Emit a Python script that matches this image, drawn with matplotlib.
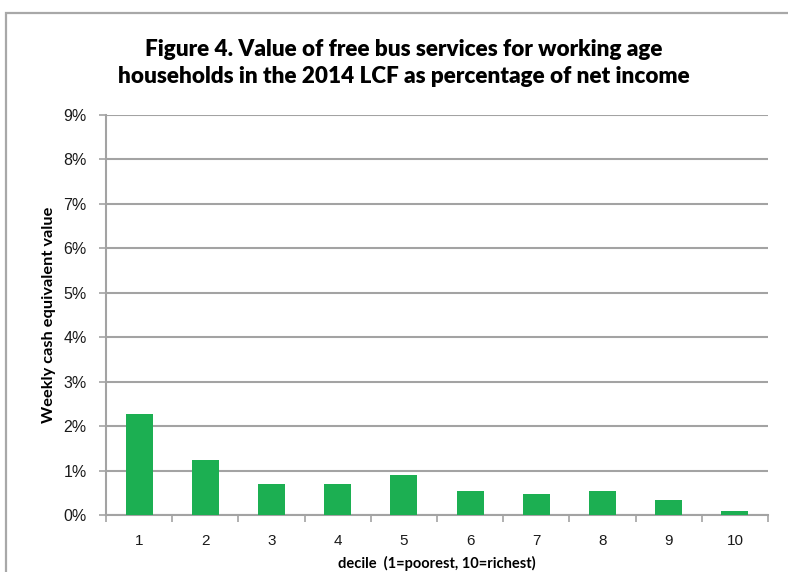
import matplotlib
matplotlib.use("Agg")
import matplotlib.pyplot as plt
from matplotlib.patches import Rectangle
from matplotlib.ticker import FixedLocator

deciles = ["1", "2", "3", "4", "5", "6", "7", "8", "9", "10"]
values = [2.27, 1.23, 0.69, 0.69, 0.89, 0.54, 0.48, 0.54, 0.33, 0.08]
ytick_labels = ["0%", "1%", "2%", "3%", "4%", "5%", "6%", "7%", "8%", "9%"]

title = "Figure 4. Value of free bus services for working age\nhouseholds in the 2014 LCF as percentage of net income"
ylabel = "Weekly cash equivalent value"
xlabel = "decile  (1=poorest, 10=richest)"

W, H = 788, 572
fig = plt.figure(figsize=(W / 100, H / 100), dpi=100)
ax = fig.add_axes([106 / W, 1 - 515 / H, (768 - 106) / W, 400 / H])

grid_c = "#a3a3a3"
x = list(range(1, len(deciles) + 1))
ax.bar(x, values, width=0.41, color="#1caf52", zorder=3)

ax.set_xlim(0.5, 10.5)
ax.set_ylim(0, 9)
ax.set_yticks(range(10))
ax.set_yticklabels(ytick_labels, fontfamily="Liberation Sans", fontsize=11.5)
ax.set_xticks(x)
ax.set_xticklabels(deciles, fontfamily="Liberation Sans", fontsize=11)
ax.xaxis.set_minor_locator(FixedLocator([i + 0.5 for i in range(0, 11)]))
ax.tick_params(axis="x", which="major", length=0, pad=14, colors="#1a1a1a")
ax.tick_params(axis="x", which="minor", length=5, width=1.2, color=grid_c, direction="out")
ax.tick_params(axis="y", length=5, width=1.2, color=grid_c, pad=9, labelcolor="#1a1a1a")

ax.grid(axis="y", color=grid_c, linewidth=1.5, zorder=0)
for s in ["top", "right"]:
    ax.spines[s].set_visible(False)
for s in ["left", "bottom"]:
    ax.spines[s].set_color(grid_c)
    ax.spines[s].set_linewidth(1.5)

ax.set_ylabel(ylabel, fontfamily="Lato", fontweight="bold", fontsize=11.8, color="#000000")
ax.yaxis.set_label_coords((56 - 106) / (768 - 106), 0.5)

fig.text(404 / W, 1 - 63 / H, title, ha="center", va="center", fontfamily="Lato",
         fontweight="heavy", fontsize=16.2, linespacing=1.4, color="#000000")
fig.text(437 / W, 1 - 563 / H, xlabel, ha="center", va="center", fontfamily="Lato",
         fontweight="bold", fontsize=10.5, color="#000000")

fig.patches.append(Rectangle((6 / W, -0.2), 1.2, 1 - 13 / H + 0.2, transform=fig.transFigure,
                             fill=False, edgecolor="#a8a8a8", linewidth=1.6))

fig.savefig("out.png", dpi=100)
